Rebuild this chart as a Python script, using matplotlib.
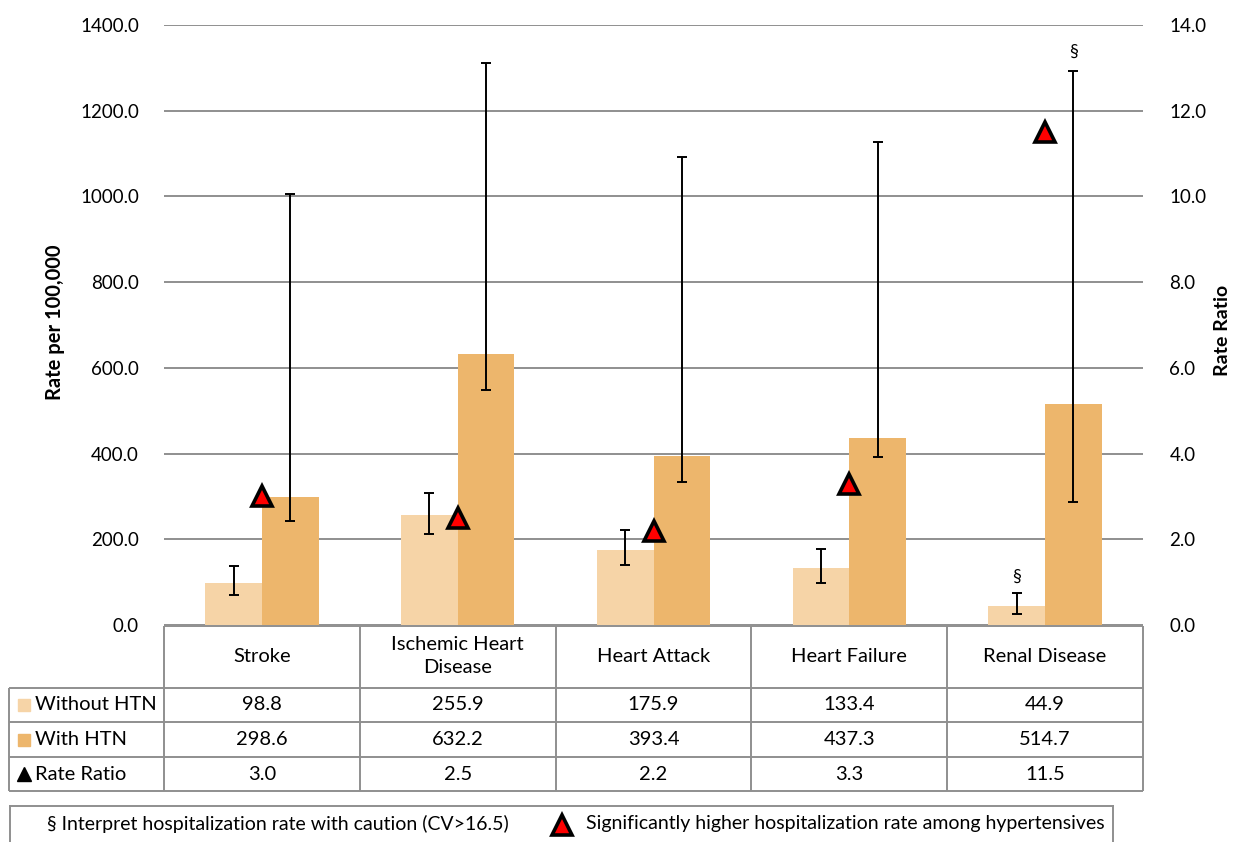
import matplotlib
matplotlib.use("Agg")
import matplotlib.pyplot as plt
import numpy as np

plt.rcParams["font.family"] = ["Lato", "DejaVu Sans"]

categories = ["Stroke", "Ischemic Heart\nDisease", "Heart Attack", "Heart Failure", "Renal Disease"]
without_htn = [98.8, 255.9, 175.9, 133.4, 44.9]
with_htn = [298.6, 632.2, 393.4, 437.3, 514.7]
rate_ratio = [3.0, 2.5, 2.2, 3.3, 11.5]
without_lo = [70, 212, 140, 97, 26]
without_hi = [137, 309, 222, 178, 75]
with_lo = [242, 549, 333, 391, 288]
with_hi = [1005, 1312, 1093, 1128, 1293]
without_caution = [False, False, False, False, True]
with_caution = [False, False, False, False, True]
row_labels = ["Without HTN", "With HTN", "Rate Ratio"]

LIGHT = "#F6D4A7"
DARK = "#EDB66C"
GRID = "#8f8f8f"

W, H = 1237, 842


def fx(px):
    return px / W


def fy(py):
    return 1 - py / H


fig = plt.figure(figsize=(W / 100, H / 100), dpi=100)

# main plot area
ax = fig.add_axes([fx(164), fy(625), (1143 - 164) / W, (625 - 25) / H])
x = np.arange(len(categories))
bw = 0.29
wo = np.array(without_htn)
wi = np.array(with_htn)
err_wo = [wo - np.array(without_lo), np.array(without_hi) - wo]
err_wi = [wi - np.array(with_lo), np.array(with_hi) - wi]
ekw = dict(elinewidth=1.4, capthick=1.4, ecolor="black")
ax.bar(x - bw / 2, wo, bw, color=LIGHT, yerr=err_wo, capsize=3.5, error_kw=ekw, zorder=2)
ax.bar(x + bw / 2, wi, bw, color=DARK, yerr=err_wi, capsize=3.5, error_kw=ekw, zorder=2)

for i in range(len(categories)):
    if without_caution[i]:
        ax.annotate("§", (x[i] - bw / 2, without_hi[i]), xytext=(0, 6), textcoords="offset points",
                    ha="center", va="bottom", fontsize=13)
    if with_caution[i]:
        ax.annotate("§", (x[i] + bw / 2, with_hi[i]), xytext=(0, 8), textcoords="offset points",
                    ha="center", va="bottom", fontsize=13)

ax.set_xlim(-0.5, len(categories) - 0.5)
ax.set_ylim(0, 1400)
ax.set_yticks(np.arange(0, 1401, 200))
ax.set_yticklabels([f"{v:.1f}" for v in np.arange(0, 1401, 200)], fontsize=13.5)
ax.set_xticks([])
ax.tick_params(axis="y", length=0, pad=18)
ax.grid(axis="y", color=GRID, lw=1.4, zorder=0)
ax.set_axisbelow(True)
for s in ax.spines.values():
    s.set_visible(False)

ax2 = ax.twinx()
ax2.plot(x, rate_ratio, linestyle="none", marker="^", ms=15, mfc="red", mec="black", mew=2.6, zorder=5)
ax2.set_ylim(0, 14)
ax2.set_yticks(np.arange(0, 14.1, 2))
ax2.set_yticklabels([f"{v:.1f}" for v in np.arange(0, 14.1, 2)], fontsize=13.5)
ax2.tick_params(axis="y", length=0, pad=19)
for s in ax2.spines.values():
    s.set_visible(False)

fig.text(fx(55), fy(322), "Rate per 100,000", rotation=90, ha="center", va="center",
         fontsize=14.5, fontweight="bold")
fig.text(fx(1222), fy(330), "Rate Ratio", rotation=90, ha="center", va="center",
         fontsize=14, fontweight="bold")

# data table under the plot
cw = (1143 - 164) / len(categories)
tab = fig.add_axes([fx(9.5), fy(791), (1143 - 9.5) / W, (791 - 626) / H])
tab.set_xlim(-0.5 - (164 - 9.5) / cw, len(categories) - 0.5)
tab.set_ylim(791, 626)
tab.axis("off")
left = -0.5 - (164 - 9.5) / cw
right = len(categories) - 0.5
row_edges = [688, 722, 757, 791]
tab.hlines(626, -0.5, right, color=GRID, lw=1.4, clip_on=False)
tab.hlines(row_edges, left, right, color=GRID, lw=1.4, clip_on=False)
tab.vlines(np.arange(-0.5, right + 0.01, 1), 626, 791, color=GRID, lw=1.4, clip_on=False)
tab.vlines(left, 688, 791, color=GRID, lw=1.4, clip_on=False)

for i, name in enumerate(categories):
    tab.text(i, 656, name, ha="center", va="center", fontsize=14.5, linespacing=1.45)

rows = [without_htn, with_htn, rate_ratio]
row_mid = [(row_edges[k] + row_edges[k + 1]) / 2 for k in range(3)]
for r, vals in enumerate(rows):
    for i, v in enumerate(vals):
        tab.text(i, row_mid[r], f"{v:.1f}", ha="center", va="center", fontsize=14.5)

key_x = left + (24 - 9.5) / cw
lab_x = left + (35 - 9.5) / cw
tab.plot(key_x, row_mid[0], marker="s", ms=9, color=LIGHT, linestyle="none", clip_on=False)
tab.plot(key_x, row_mid[1], marker="s", ms=9, color=DARK, linestyle="none", clip_on=False)
tab.plot(key_x, row_mid[2], marker="^", ms=10, color="black", linestyle="none", clip_on=False)
for r, lab in enumerate(row_labels):
    tab.text(lab_x, row_mid[r], lab, ha="left", va="center", fontsize=14.5)

# footnote box
leg = fig.add_axes([fx(10), 0, (1113 - 10) / W, (842 - 806) / H])
leg.set_xlim(10, 1113)
leg.set_ylim(842, 806)
leg.set_xticks([])
leg.set_yticks([])
for name, s in leg.spines.items():
    s.set_color(GRID)
    s.set_linewidth(1.4)
leg.spines["bottom"].set_visible(False)
leg.text(278, 824, "§ Interpret hospitalization rate with caution (CV>16.5)", ha="center", va="center",
         fontsize=14)
leg.plot(562, 825, marker="^", ms=15, mfc="red", mec="black", mew=2.6, linestyle="none")
leg.text(586, 824, "Significantly higher hospitalization rate among hypertensives", ha="left",
         va="center", fontsize=14)

fig.savefig("out.png", dpi=100)
